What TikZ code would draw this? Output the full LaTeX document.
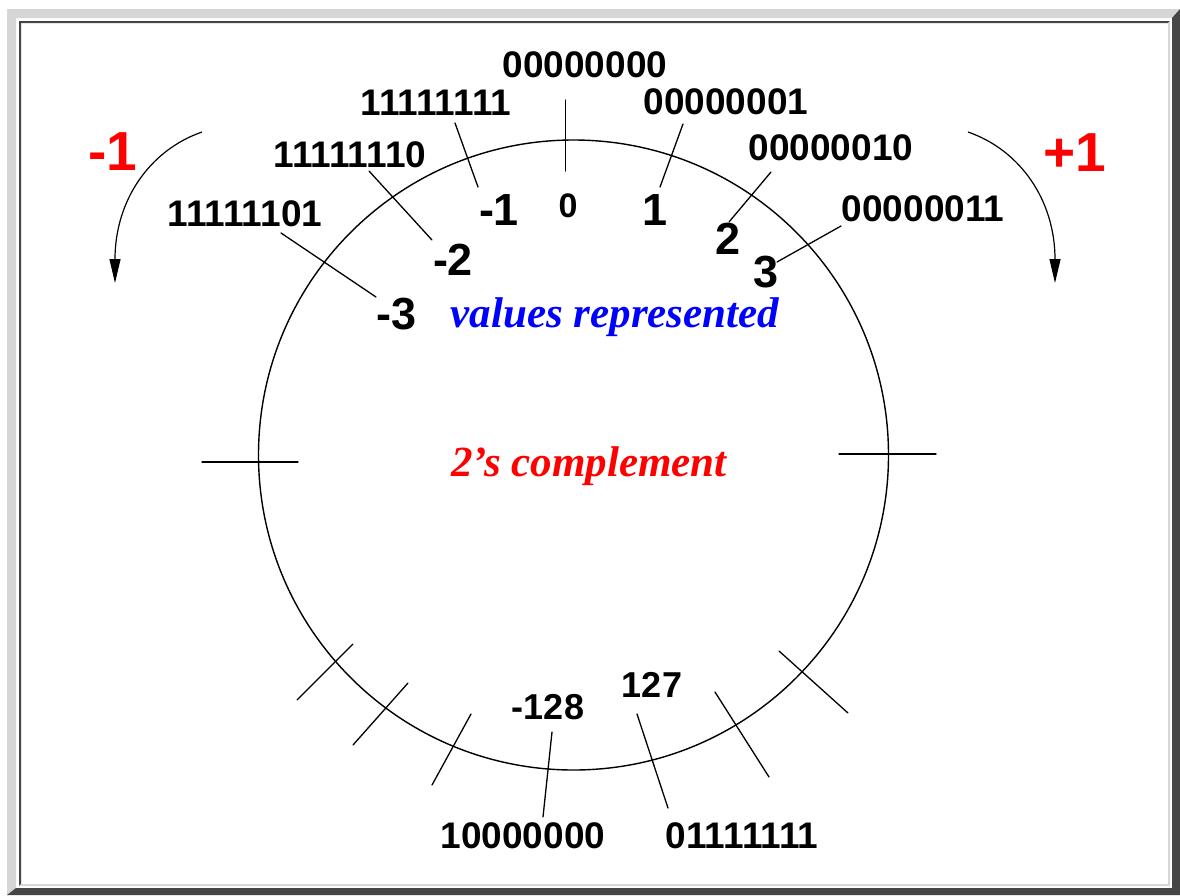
\documentclass[tikz,border=0pt]{standalone}
\usepackage{fontspec}
\newfontfamily\hv{Liberation Sans}
\newfontfamily\tm{Liberation Serif}
\usetikzlibrary{arrows.meta}
\definecolor{bevlight}{HTML}{D6D6D6}
\definecolor{bevdark}{HTML}{464646}
\definecolor{pred}{RGB}{255,0,0}
\definecolor{pblue}{RGB}{0,0,255}
\begin{document}
\begin{tikzpicture}[x=1pt,y=-1pt,
  bin/.style={font=\hv\bfseries\fontsize{37}{40}\selectfont, inner sep=0pt},
  dec/.style={font=\hv\bfseries\fontsize{45}{48}\selectfont, inner sep=0pt},
  mid/.style={font=\hv\bfseries\fontsize{36}{40}\selectfont, inner sep=0pt},
  small/.style={font=\hv\bfseries\fontsize{34}{38}\selectfont, inner sep=0pt},
  step1/.style={font=\hv\bfseries\fontsize{55}{58}\selectfont, inner sep=0pt, text=pred},
  ital/.style={font=\tm\bfseries\itshape\fontsize{43}{46}\selectfont, inner sep=0pt},
  ln/.style={line width=1.3pt, line cap=round},
  curvearrow/.style={line width=1.2pt, -{Triangle[length=24pt,width=11pt]}}
]
\useasboundingbox (0,0) rectangle (1180,895);
\fill[white] (0,0) rectangle (1180,895);
% frame
\fill[bevlight] (7,9) -- (1180,9) -- (1172,18) -- (16,18) -- (16,888) -- (7,895) -- cycle;
\fill[bevdark] (1180,9) -- (1180,895) -- (7,895) -- (16,888) -- (1172,888) -- (1172,18) -- cycle;
\fill[bevdark] (19,21) -- (1170,21) -- (1168,23) -- (21,23) -- (21,884) -- (19,886) -- cycle;
\fill[bevlight] (1170,21) -- (1170,886) -- (19,886) -- (21,884) -- (1168,884) -- (1168,23) -- cycle;

% circle
\coordinate (c) at (573.5,455);
\draw[line width=1.4pt] (c) circle[radius=315pt];

% ticks
\coordinate (tt1) at (565.5,100); \coordinate (tt2) at (565.5,171);
\coordinate (lt1) at (202,462);   \coordinate (lt2) at (298,462);
\coordinate (rt1) at (839,454);   \coordinate (rt2) at (936,454);
\coordinate (b1a) at (297,700); \coordinate (b1b) at (353,644);
\coordinate (b2a) at (353,745); \coordinate (b2b) at (408,683);
\coordinate (b3a) at (432,785); \coordinate (b3b) at (471,714);
\coordinate (b4a) at (715,692); \coordinate (b4b) at (769,777);
\coordinate (b5a) at (779,651); \coordinate (b5b) at (848,713);
\foreach \a/\b in {tt1/tt2,lt1/lt2,rt1/rt2,b1a/b1b,b2a/b2b,b3a/b3b,b4a/b4b,b5a/b5b}
  \draw[ln] (\a) -- (\b);

% binary labels
\node[bin] (z0) at (585,65) {00000000};
\node[bin] (m1b) at (436,103) {11111111};
\node[bin] (p1b) at (726,102) {00000001};
\node[bin] (m2b) at (350,155) {11111110};
\node[bin] (p2b) at (831,148) {00000010};
\node[bin] (m3b) at (245,214) {11111101};
\node[bin] (p3b) at (923,209) {00000011};
\node[bin] (m128b) at (523,836) {10000000};
\node[bin] (p127b) at (742,836) {01111111};

% decimal labels
\node[dec] (m1) at (499,210) {-1};
\node[small] (d0) at (568,206) {0};
\node[dec] (p1) at (655,210) {1};
\node[dec] (p2) at (728,239) {2};
\node[dec] (p3) at (766,272) {3};
\node[dec] (m2) at (453,260) {-2};
\node[dec] (m3) at (397,314) {-3};
\node[mid] (m128) at (548,707) {-128};
\node[mid] (p127) at (652,685) {127};

% leader lines
\coordinate (l1a) at (455,123); \coordinate (l1b) at (478,187);
\coordinate (l2a) at (369,171); \coordinate (l2b) at (432,240);
\coordinate (l3a) at (281,233); \coordinate (l3b) at (376,297);
\coordinate (r1a) at (683,124); \coordinate (r1b) at (660,187);
\coordinate (r2a) at (771,172); \coordinate (r2b) at (729,222);
\coordinate (r3a) at (841,226); \coordinate (r3b) at (777,262);
\coordinate (q1a) at (552,732); \coordinate (q1b) at (543,817);
\coordinate (q2a) at (637,714); \coordinate (q2b) at (668,808);
\foreach \a/\b in {l1a/l1b,l2a/l2b,l3a/l3b,r1a/r1b,r2a/r2b,r3a/r3b,q1a/q1b,q2a/q2b}
  \draw[ln] (\a) -- (\b);

% texts
\node[ital, text=pblue, text height=28pt, text depth=9pt] (vr) at (615,318) {values represented};
\node[ital, text=pred] (tc) at (589,466) {2’s complement};
\node[step1] (minus) at (113,152) {-1};
\node[step1] (plus) at (1075,153) {+1};

% curved arrows
\coordinate (la) at (202,132); \coordinate (lb) at (115,283);
\coordinate (ra) at (968,132); \coordinate (rb) at (1055,283);
\draw[curvearrow] (la) .. controls (150,150) and (115,200) .. (lb);
\draw[curvearrow] (ra) .. controls (1020,150) and (1055,200) .. (rb);
\end{tikzpicture}
\end{document}
